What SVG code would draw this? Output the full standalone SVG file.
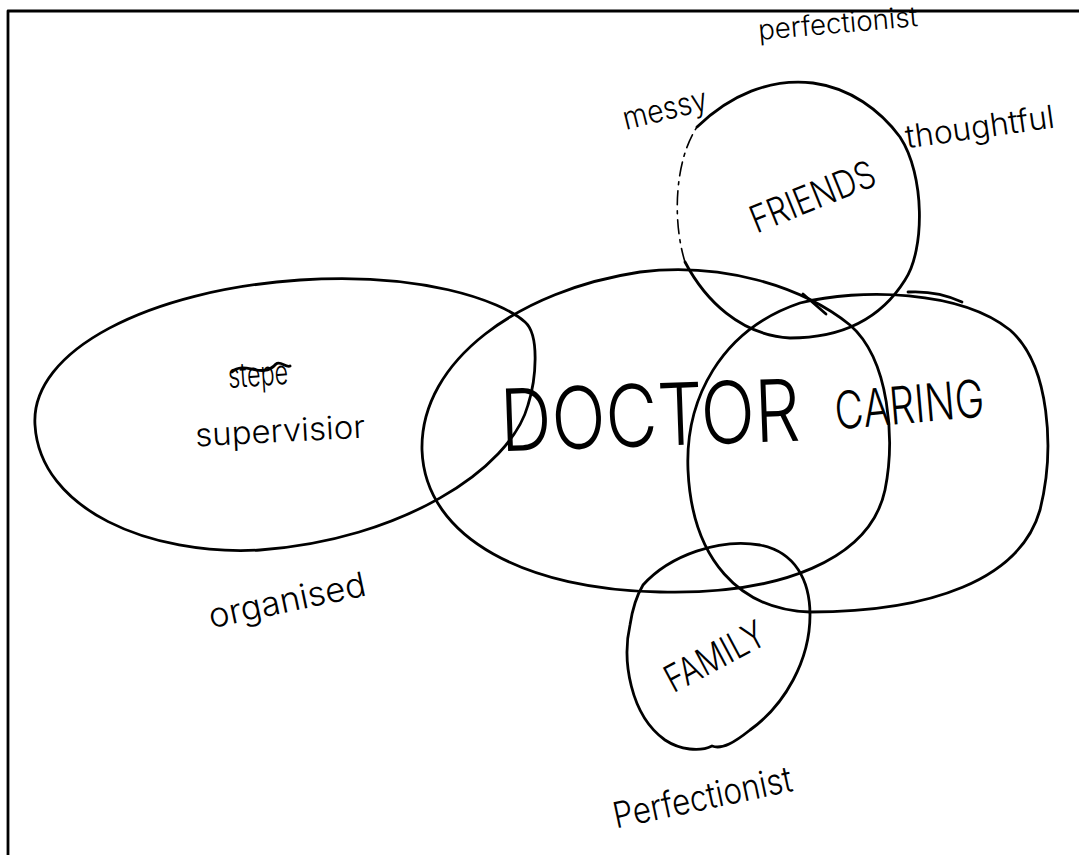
<svg xmlns="http://www.w3.org/2000/svg" width="1079" height="855" viewBox="0 0 1079 855">
  <style>
    .ink { fill: none; stroke: #000; stroke-width: 2.8; stroke-linecap: round; stroke-linejoin: round; }
    .faint { fill: none; stroke: #000; stroke-width: 1.6; stroke-dasharray: 14 6 3 6; stroke-linecap: round; }
    .hand { font-family: Inter, Lato, "Open Sans", "Liberation Sans", sans-serif; font-weight: 300; fill: #000; text-anchor: middle; }
  </style>
  <rect width="1079" height="855" fill="#fff"/>
  <!-- page border (left and top edges only) -->
  <path class="ink" d="M 8 860 L 8 11 L 1085 11" stroke-width="2.5"/>

  <g id="connectors"/>

  <g id="supervisor">
    <path class="ink" d="M 35 425 C 30 350, 150 290, 300 280 C 420 272, 500 300, 525 322 C 540 335, 536 380, 528 405 C 510 470, 400 540, 260 550 C 150 556, 40 510, 35 425 Z"/>
    <text class="hand" x="258" y="386" font-size="34" font-weight="800" textLength="60" lengthAdjust="spacingAndGlyphs" transform="rotate(-4 258 375)">stepe</text>
    <path class="ink" d="M 232 372 C 245 360, 262 380, 276 364 C 280 360, 286 368, 290 366" stroke-width="3"/>
    <text class="hand" x="280" y="442" font-size="32" textLength="170" lengthAdjust="spacingAndGlyphs" transform="rotate(-3 280 430)">supervisior</text>
    <text class="hand" x="287" y="612" font-size="34" textLength="160" lengthAdjust="spacingAndGlyphs" transform="rotate(-12 287 600)">organised</text>
  </g>

  <g id="doctor">
    <path class="ink" d="M 422 450 C 420 360, 520 290, 640 272 C 720 262, 800 285, 850 325 C 890 360, 895 440, 885 490 C 870 560, 780 595, 660 592 C 530 590, 425 540, 422 450 Z"/>
    <text class="hand" x="650" y="446" font-size="86" font-weight="150" textLength="300" lengthAdjust="spacingAndGlyphs" transform="rotate(-2 650 415)">DOCTOR</text>
  </g>

  <g id="caring">
    <path class="ink" d="M 688 470 C 685 400, 720 330, 800 303 C 860 288, 960 290, 1010 330 C 1050 365, 1055 450, 1040 510 C 1020 580, 930 612, 810 612 C 740 610, 692 560, 688 470 Z"/>
    <path class="ink" d="M 908 292 C 925 291, 945 294, 962 302" stroke-width="2.5"/>
    <path class="ink" d="M 803 294 L 826 314" stroke-width="2.5"/>
    <text class="hand" x="909" y="423" font-size="52" textLength="150" lengthAdjust="spacingAndGlyphs" transform="rotate(-5 909 400)">CARING</text>
  </g>

  <g id="friends">
    <path class="ink" d="M 697 127 C 730 95, 770 78, 813 83 C 850 88, 880 110, 900 137 C 925 175, 925 250, 905 280 C 880 320, 840 338, 790 338 C 740 335, 705 300, 685 262"/>
    <path class="faint" d="M 685 262 C 672 220, 675 160, 697 127"/>
    <text class="hand" x="812" y="210" font-size="38" textLength="132" lengthAdjust="spacingAndGlyphs" transform="rotate(-22 812 195)">FRIENDS</text>
    <text class="hand" x="838" y="33" font-size="28" textLength="160" lengthAdjust="spacingAndGlyphs" transform="rotate(-5 838 25)">perfectionist</text>
    <text class="hand" x="665" y="120" font-size="32" textLength="86" lengthAdjust="spacingAndGlyphs" transform="rotate(-14 665 110)">messy</text>
    <text class="hand" x="980" y="138" font-size="32" textLength="150" lengthAdjust="spacingAndGlyphs" transform="rotate(-8 980 128)">thoughtful</text>
  </g>

  <g id="family">
    <path class="ink" d="M 643 585 C 670 555, 720 538, 760 545 C 795 552, 810 580, 810 615 C 810 660, 785 705, 750 730 C 735 742, 722 750, 712 746 C 700 752, 680 750, 665 740 C 630 715, 622 660, 630 625 C 633 605, 637 595, 643 585 Z"/>
    <text class="hand" x="714" y="670" font-size="38" textLength="108" lengthAdjust="spacingAndGlyphs" transform="rotate(-28 714 655)">FAMILY</text>
    <text class="hand" x="702" y="810" font-size="36" textLength="182" lengthAdjust="spacingAndGlyphs" transform="rotate(-12 702 795)">Perfectionist</text>
  </g>
</svg>
